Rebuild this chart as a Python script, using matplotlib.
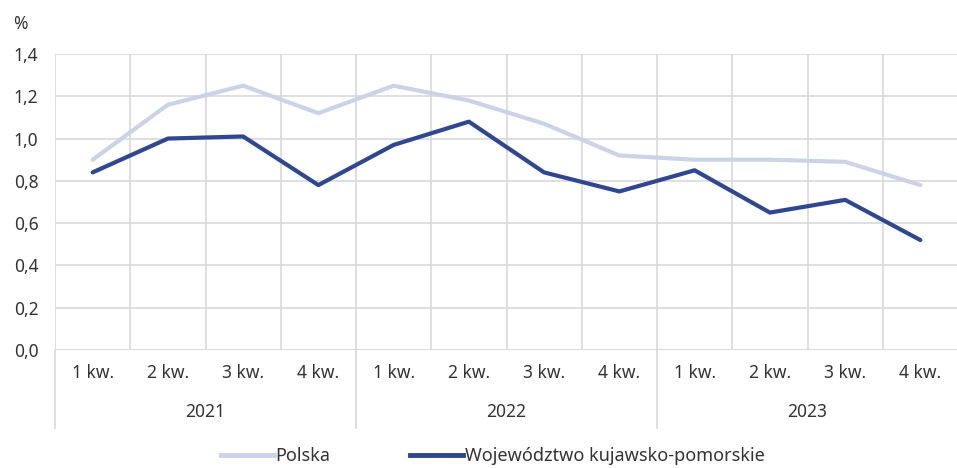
import numpy as np
import matplotlib.pyplot as plt
import matplotlib.transforms as mtransforms
from matplotlib.lines import Line2D

plt.rcParams['font.family'] = ['Noto Sans', 'DejaVu Sans']

quarters = ['1 kw.', '2 kw.', '3 kw.', '4 kw.'] * 3
years = ['2021', '2022', '2023']
polska = [0.90, 1.16, 1.25, 1.12, 1.25, 1.18, 1.07, 0.92, 0.90, 0.90, 0.89, 0.78]
kujawsko = [0.84, 1.00, 1.01, 0.78, 0.97, 1.08, 0.84, 0.75, 0.85, 0.65, 0.71, 0.52]

c_light = '#CDD3E6'
c_dark = '#2E4790'
c_grid = '#D9D9D9'
c_text = '#333333'
fs = 12.5

fig = plt.figure(figsize=(9.57, 4.68), dpi=100)
ax = fig.add_axes([55/957, 118/468, 903/957, 296/468])

x = np.arange(len(quarters))
ax.plot(x, polska, color=c_light, lw=3, solid_capstyle='round', zorder=3)
ax.plot(x, kujawsko, color=c_dark, lw=3, solid_capstyle='round', zorder=4)

ax.set_xlim(-0.5, len(quarters) - 0.5)
ax.set_ylim(0, 1.4)
ax.set_yticks(np.arange(0, 1.41, 0.2))
ax.set_yticklabels([f'{v:.1f}'.replace('.', ',') for v in np.arange(0, 1.41, 0.2)])
ax.set_xticks(x)
ax.set_xticklabels(quarters)
ax.set_xticks(np.arange(-0.5, len(quarters), 1), minor=True)
ax.tick_params(axis='both', which='both', length=0, labelsize=fs, colors=c_text)
ax.tick_params(axis='x', pad=10)
ax.tick_params(axis='y', pad=12)

ax.grid(axis='y', which='major', color=c_grid, lw=1.2)
ax.grid(axis='x', which='minor', color=c_grid, lw=1.2)
ax.set_axisbelow(True)
for s in ax.spines.values():
    s.set_visible(False)
ax.axhline(0, color=c_grid, lw=1.5, zorder=1)

# year labels and separators
trans = mtransforms.blended_transform_factory(ax.transData, ax.transAxes)
for i, yr in enumerate(years):
    ax.text(i * 4 + 1.5, -0.21, yr, transform=trans, ha='center', va='center',
            fontsize=fs, color=c_text)
for b in [-0.5, 3.5, 7.5]:
    ax.plot([b, b], [0, -0.265], transform=trans, color=c_grid, lw=1.2, clip_on=False)

ax.text(-0.038, 1.101, '%', transform=ax.transAxes, ha='center', va='center',
        fontsize=fs, color=c_text)

handles = [Line2D([], [], color=c_light, lw=3.5), Line2D([], [], color=c_dark, lw=3.5)]
fig.legend(handles, ['Polska', 'Województwo kujawsko-pomorskie'], ncol=2, frameon=False,
           loc='center', bbox_to_anchor=(0.515, 0.025), fontsize=13, handlelength=2.95,
           handletextpad=0.1, columnspacing=4.4, labelcolor=c_text)

fig.savefig('out.png', dpi=100)
